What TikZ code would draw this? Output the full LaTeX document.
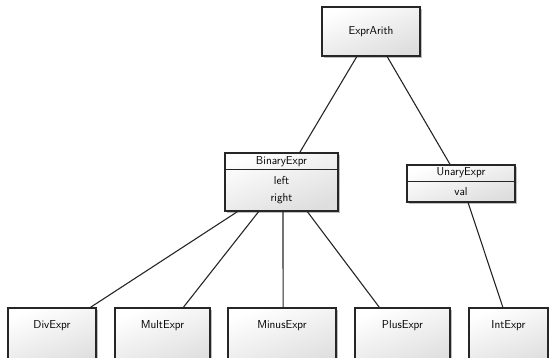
\documentclass[tikz,border=0pt]{standalone}
\usetikzlibrary{calc,shadows}
\begin{document}
\begin{tikzpicture}[x=1pt,y=-1pt,
  box/.style={draw=black!85, line width=1.1pt, inner sep=0pt,
    top color=white, bottom color=black!13, shading angle=20,
    drop shadow={shadow xshift=2pt, shadow yshift=-2pt, opacity=0.25, fill=black}},
  lbl/.style={font=\sffamily\fontsize{11.5}{12}\selectfont, inner sep=0pt, text=black},
  conn/.style={draw=black!85, line width=1.1pt}]
\useasboundingbox (0,0) rectangle (549,357);
% boxes
\node[box, minimum width=98pt, minimum height=49pt] (ea) at (371,31.5) {};
\node[lbl] (eat) at (371,31.5) {ExprArith};
\node[box, minimum width=113pt, minimum height=58pt] (bin) at (281.5,182) {};
\node[lbl] (bint) at (281.5,161.5) {BinaryExpr};
\node[lbl] (binl) at (281.5,180.5) {left};
\node[lbl] (binr) at (281.5,198.5) {right};
\draw[conn] ($(bin.north west)+(0,17)$) coordinate (bs1) -- ($(bin.north east)+(0,17)$) coordinate (bs2);
\node[box, minimum width=108pt, minimum height=37pt] (un) at (461,183.5) {};
\node[lbl] (unt) at (461,173) {UnaryExpr};
\node[lbl] (unv) at (461,191.5) {val};
\draw[conn] ($(un.north west)+(0,17)$) coordinate (us1) -- ($(un.north east)+(0,17)$) coordinate (us2);
\node[box, minimum width=88pt, minimum height=60pt] (div) at (52,338) {};
\node[lbl] (divt) at ($(div.north)+(0,18)$) {DivExpr};
\node[box, minimum width=95pt, minimum height=60pt] (mult) at (162.5,338) {};
\node[lbl] (multt) at ($(mult.north)+(0,18)$) {MultExpr};
\node[box, minimum width=108pt, minimum height=60pt] (minus) at (282,338) {};
\node[lbl] (minust) at ($(minus.north)+(0,18)$) {MinusExpr};
\node[box, minimum width=95pt, minimum height=60pt] (plus) at (402.5,338) {};
\node[lbl] (plust) at ($(plus.north)+(0,18)$) {PlusExpr};
\node[box, minimum width=79pt, minimum height=60pt] (int) at (508.5,338) {};
\node[lbl] (intt) at ($(int.north)+(0,18)$) {IntExpr};
% connectors
\draw[conn] ($(ea.south west)!0.357!(ea.south east)$) -- ($(bin.north west)!0.66!(bin.north east)$);
\draw[conn] ($(ea.south west)!0.663!(ea.south east)$) -- ($(un.north west)!0.40!(un.north east)$);
\draw[conn] ($(bin.south west)!0.115!(bin.south east)$) -- ($(div.north west)!0.93!(div.north east)$);
\draw[conn] ($(bin.south west)!0.30!(bin.south east)$) -- ($(mult.north west)!0.716!(mult.north east)$);
\draw[conn] ($(bin.south west)!0.513!(bin.south east)$) -- ($(minus.north west)!0.51!(minus.north east)$);
\draw[conn] ($(bin.south west)!0.726!(bin.south east)$) -- ($(plus.north west)!0.26!(plus.north east)$);
\draw[conn] ($(un.south west)!0.565!(un.south east)$) -- ($(int.north west)!0.43!(int.north east)$);
\end{tikzpicture}
\end{document}
